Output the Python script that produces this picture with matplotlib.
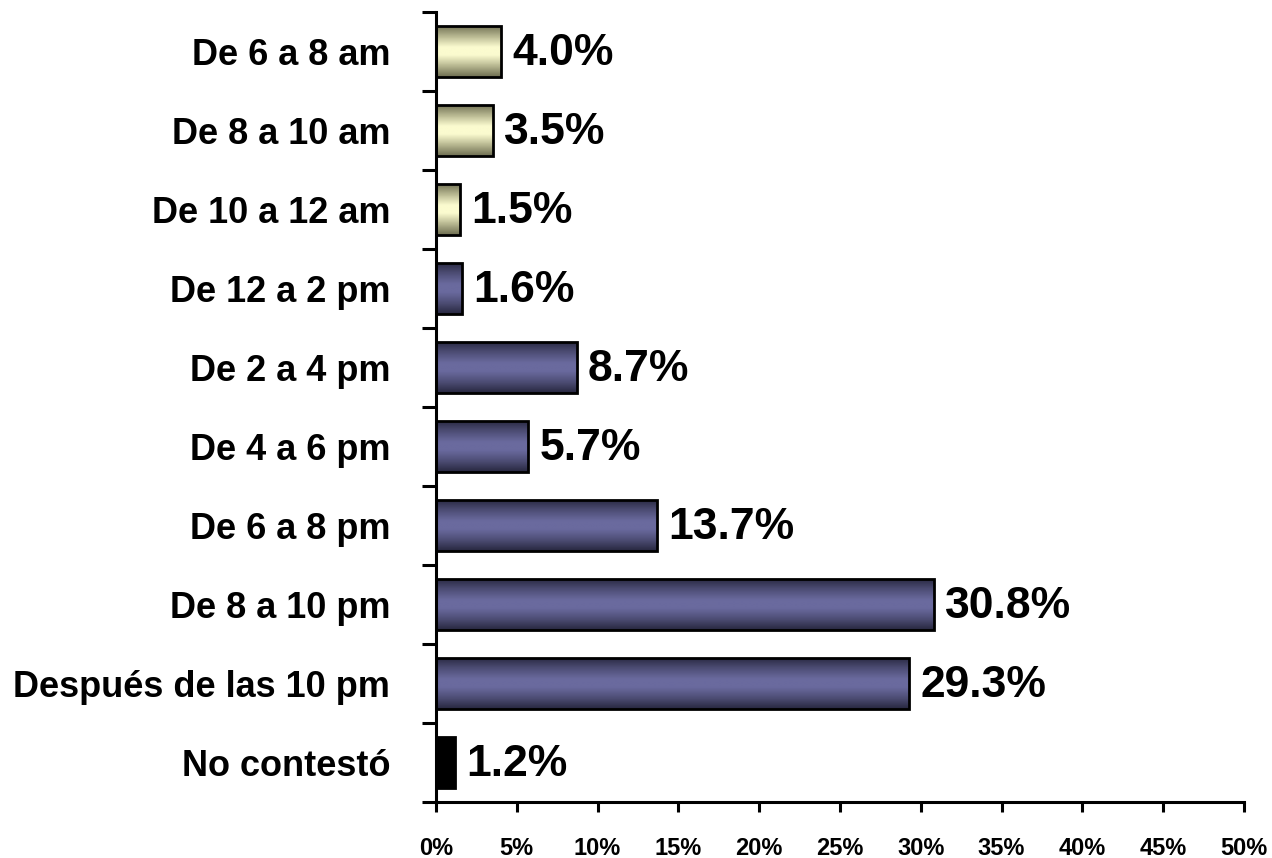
import numpy as np
import matplotlib
matplotlib.use("Agg")
import matplotlib.pyplot as plt
from matplotlib.colors import LinearSegmentedColormap
from matplotlib.ticker import FixedLocator

categories = ["De 6 a 8 am", "De 8 a 10 am", "De 10 a 12 am", "De 12 a 2 pm",
              "De 2 a 4 pm", "De 4 a 6 pm", "De 6 a 8 pm", "De 8 a 10 pm",
              "Después de las 10 pm", "No contestó"]
values = [4.0, 3.5, 1.5, 1.6, 8.7, 5.7, 13.7, 30.8, 29.3, 1.2]
labels = ["4.0%", "3.5%", "1.5%", "1.6%", "8.7%", "5.7%", "13.7%", "30.8%", "29.3%", "1.2%"]
groups = ["am", "am", "am", "pm", "pm", "pm", "pm", "pm", "pm", "nc"]
xticks = [0, 5, 10, 15, 20, 25, 30, 35, 40, 45, 50]

plt.rcParams['font.family'] = ['Liberation Sans', 'DejaVu Sans']
fig = plt.figure(figsize=(12.72, 8.58), dpi=100)
ax = fig.add_axes([436/1272, 1-802/858, (1244-436)/1272, (802-12)/858])

cmaps = {
    "am": LinearSegmentedColormap.from_list(
        "am", [(0, "#6f6f52"), (0.2, "#b4b48e"), (0.42, "#fbfbcf"), (0.58, "#fbfbcf"),
               (0.8, "#b4b48e"), (1, "#6f6f52")]),
    "pm": LinearSegmentedColormap.from_list(
        "pm", [(0, "#282840"), (0.2, "#4c4c73"), (0.42, "#6a6a9e"), (0.58, "#6a6a9e"),
               (0.8, "#4c4c73"), (1, "#282840")]),
}

y = np.arange(len(categories))
h = 0.65
bars = ax.barh(y, values, height=h, color="none", edgecolor="black", linewidth=2, zorder=3)
grad = np.linspace(0, 1, 64).reshape(-1, 1)
for b, g in zip(bars, groups):
    x0, y0 = b.get_x(), b.get_y()
    w, hh = b.get_width(), b.get_height()
    if g == "nc":
        b.set_facecolor("black")
        continue
    im = ax.imshow(grad, cmap=cmaps[g], aspect="auto", extent=(x0, x0 + w, y0 + hh, y0),
                   interpolation="bilinear", zorder=2)
    im.set_clip_path(b)

for yi, v, lab in zip(y, values, labels):
    ax.text(v + 0.7, yi + 0.02, lab, va="center", ha="left", fontsize=32, fontweight="bold")

ax.set_xlim(0, 50)
ax.set_ylim(len(categories) - 0.5, -0.5)
ax.set_xticks(xticks)
ax.set_xticklabels([f"{t}%" for t in xticks], fontsize=17, fontweight="bold")
ax.set_yticks(y)
ax.set_yticklabels(categories, fontsize=26, fontweight="bold")
ax.yaxis.set_minor_locator(FixedLocator(np.arange(-0.5, len(categories), 1)))
ax.tick_params(axis="y", which="major", length=0, pad=33)
ax.tick_params(axis="y", which="minor", length=10, width=2.2, direction="out")
ax.tick_params(axis="x", which="major", length=7, width=2.2, direction="out", pad=18)
for s in ["top", "right"]:
    ax.spines[s].set_visible(False)
for s in ["left", "bottom"]:
    ax.spines[s].set_linewidth(2.2)

fig.savefig("out.png", dpi=100)
